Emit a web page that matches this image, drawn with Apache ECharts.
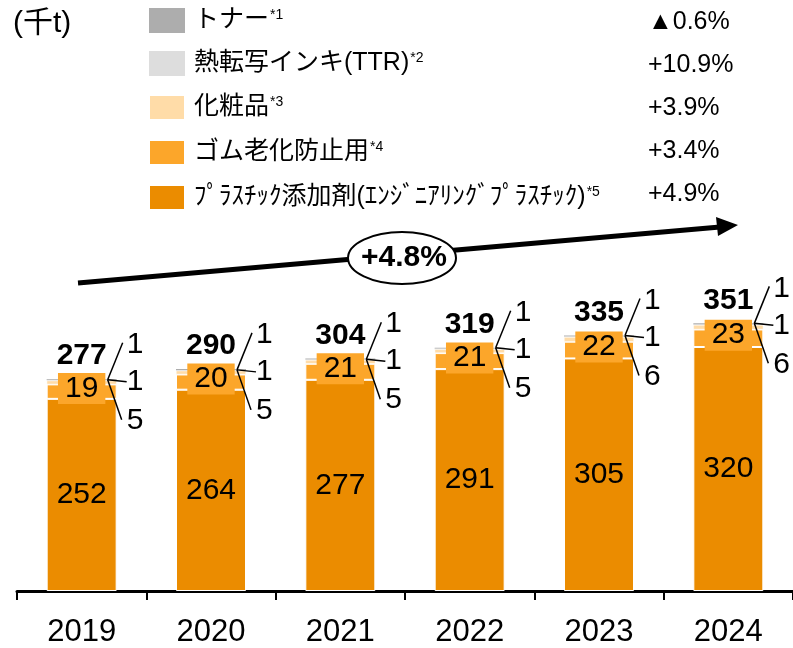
<!DOCTYPE html>
<html>
<head>
<meta charset="utf-8">
<script src="https://cdn.jsdelivr.net/npm/echarts@6/dist/echarts.min.js"></script>
<style>
html, body { margin: 0; padding: 0; background: #fff; }
#chart { width: 793px; height: 648px; }
</style>
</head>
<body>
<div id="chart"></div>
<script>
const years = ['2019', '2020', '2021', '2022', '2023', '2024']
const plastics = [252, 264, 277, 291, 305, 320]
const rubber = [19, 20, 21, 21, 22, 23]
const cosmetics = [5, 5, 5, 5, 6, 6]
const ttr = [1, 1, 1, 1, 1, 1]
const toner = [1, 1, 1, 1, 1, 1]
const totals = [277, 290, 304, 319, 335, 351]

// legend order, top to bottom
const legendNames = ['トナー', '熱転写インキ(TTR)', '化粧品', 'ゴム老化防止用', 'ﾌﾟﾗｽﾁｯｸ添加剤(ｴﾝｼﾞﾆｱﾘﾝｸﾞﾌﾟﾗｽﾁｯｸ)']
const noteMarks = ['*1', '*2', '*3', '*4', '*5']
const growthRates = ['▲0.6%', '+10.9%', '+3.9%', '+3.4%', '+4.9%']
const cagrLabel = '+4.8%'

const FONT = "'Liberation Sans', 'Noto Sans CJK JP', sans-serif"
const colors = {
  toner: '#ADADAD',
  ttr: '#DDDDDD',
  cosmetics: '#FFDCA8',
  rubber: '#FCA62A',
  plastics: '#EB8C00',
}

const noteOf = {}
legendNames.forEach((n, i) => { noteOf[n] = noteMarks[i] })

const bar = (name, data, color, borderWidth, label) => ({
  type: 'bar',
  name,
  stack: 'total',
  data,
  barWidth: 70,
  itemStyle: { color, borderColor: '#fff', borderWidth },
  label: label || { show: false },
})

const buildOption = () => {
  const legendTop = 8
  const rowStep = 42.8

  const rateTexts = growthRates.map((t, i) => ({
    type: 'text',
    x: 648,
    y: legendTop + 12.5 + i * rowStep + 2,
    style: { text: t, fontSize: 25, fontFamily: FONT, fill: '#000', verticalAlign: 'middle' },
  }))

  return {
    animation: false,
    title: {
      text: '(千t)',
      left: 8,
      top: 4,
      textStyle: { fontSize: 30, fontWeight: 'normal', fontFamily: FONT, color: '#000' },
    },
    legend: {
      orient: 'vertical',
      left: 148,
      top: legendTop,
      padding: 0,
      itemWidth: 36,
      itemHeight: 25,
      itemGap: 18,
      icon: 'rect',
      selectedMode: false,
      data: legendNames,
      formatter: (name) => `{n|${name}}{s|${noteOf[name]}}`,
      textStyle: {
        color: '#000',
        fontFamily: FONT,
        fontSize: 25,
        padding: [0, 0, 0, 4],
        rich: {
          n: { fontSize: 25, lineHeight: 25, fontFamily: FONT, color: '#000' },
          s: { fontSize: 14, lineHeight: 14, verticalAlign: 'top', fontFamily: FONT, color: '#000', padding: [0, 0, 0, 1] },
        },
      },
    },
    grid: { left: 17, width: 780, top: 286, bottom: 57 },
    xAxis: {
      type: 'category',
      data: years,
      axisLine: { lineStyle: { color: '#000', width: 3 } },
      axisTick: { show: true, length: 9, lineStyle: { color: '#000', width: 2 } },
      axisLabel: { color: '#000', fontSize: 31, fontFamily: FONT, margin: 26 },
    },
    yAxis: { type: 'value', min: 0, max: 400, show: false },
    series: [
      bar(legendNames[4], plastics, colors.plastics, 1, {
        show: true, position: 'inside', color: '#000', fontSize: 30, fontFamily: FONT,
      }),
      bar(legendNames[3], rubber, colors.rubber, 1, {
        show: true, position: 'inside', color: '#000', fontSize: 30, lineHeight: 25, fontFamily: FONT,
        backgroundColor: colors.rubber, padding: [3, 7, 3, 7], offset: [0, -3],
      }),
      bar(legendNames[2], cosmetics, colors.cosmetics, 0.5),
      bar(legendNames[1], ttr, colors.ttr, 0),
      bar(legendNames[0], toner, colors.toner, 0, {
        show: true, position: 'top', distance: 8, color: '#000', fontSize: 30, fontWeight: 'bold', fontFamily: FONT,
        formatter: (p) => String(totals[p.dataIndex]),
      }),
      {
        type: 'custom',
        name: 'breakdown',
        silent: true,
        z: 10,
        data: years.map((y, i) => [i, totals[i], toner[i], ttr[i], cosmetics[i]]),
        renderItem: (params, api) => {
          const p = api.coord([api.value(0), api.value(1)])
          const ox = p[0] + 26
          const oy = p[1]
          const ends = [[41, -37], [45, 2], [40, 40]]
          const labelDy = [-35, 2, 41]
          const vals = [api.value(2), api.value(3), api.value(4)]
          const children = []
          ends.forEach((e) => {
            children.push({
              type: 'line',
              shape: { x1: ox, y1: oy, x2: p[0] + e[0], y2: p[1] + e[1] },
              style: { stroke: '#000', lineWidth: 1.5 },
            })
          })
          vals.forEach((v, k) => {
            children.push({
              type: 'text',
              x: p[0] + 45,
              y: p[1] + labelDy[k],
              style: { text: String(v), fontSize: 30, fontFamily: FONT, fill: '#000', verticalAlign: 'middle', align: 'left' },
            })
          })
          return { type: 'group', children }
        },
      },
    ],
    graphic: [
      {
        type: 'line',
        shape: { x1: 78, y1: 283, x2: 720, y2: 227 },
        style: { stroke: '#000', lineWidth: 5 },
      },
      {
        type: 'polygon',
        shape: { points: [[738, 225], [716, 217], [718, 236]] },
        style: { fill: '#000' },
      },
      {
        type: 'ellipse',
        shape: { cx: 402, cy: 258, rx: 54, ry: 26 },
        style: { fill: '#fff', stroke: '#000', lineWidth: 2 },
      },
      {
        type: 'text',
        x: 404,
        y: 258,
        style: { text: cagrLabel, fontSize: 30, fontWeight: 'bold', fontFamily: FONT, fill: '#000', align: 'center', verticalAlign: 'middle' },
      },
      ...rateTexts,
    ],
  }
}

const chart = echarts.init(document.getElementById('chart'))
chart.setOption(buildOption())
</script>
</body>
</html>
